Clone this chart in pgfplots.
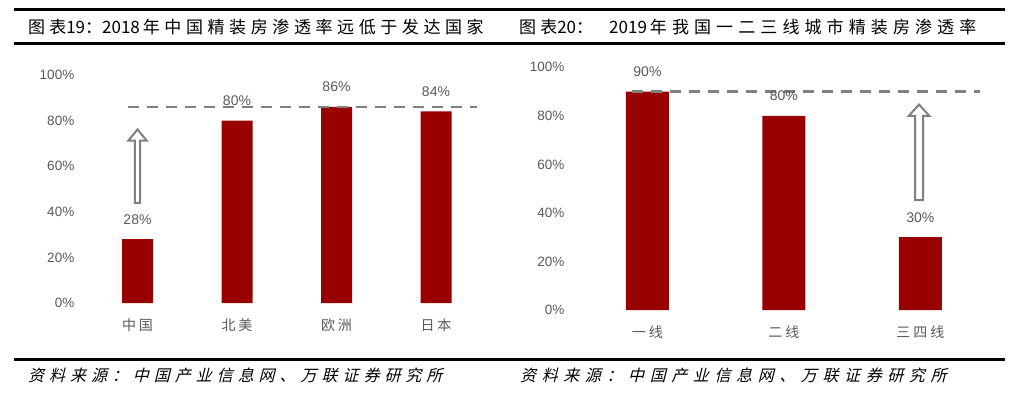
\documentclass[border=0pt]{standalone}
\usepackage{fontspec}
\setmainfont{Liberation Sans}
\newfontfamily\cjk{Noto Sans CJK SC}
\newfontfamily\cjkT[LetterSpace=24]{Noto Sans CJK SC}
\newfontfamily\cjkTA[LetterSpace=27]{Noto Sans CJK SC}
\newfontfamily\cjkTB[LetterSpace=30]{Noto Sans CJK SC}
\newfontfamily\cjksrcA[FakeSlant=0.25,LetterSpace=31]{Noto Sans CJK SC}
\newfontfamily\cjksrcB[FakeSlant=0.25,LetterSpace=35]{Noto Sans CJK SC}
\usepackage{pgfplots}
\usepackage{pgfplotstable}
\pgfplotsset{compat=1.18}
\definecolor{barred}{HTML}{990000}
\definecolor{txtgray}{HTML}{595959}
\definecolor{refgray}{HTML}{808080}

\pgfplotstableread{
x y
0 28
1 80
2 86
3 84
}\lefttab
\pgfplotstableread{
x y
0 90
1 80
2 30
}\righttab

\pgfplotsset{
 mystyle/.style={
  scale only axis, ymin=0, ymax=100, ytick={0,20,...,100},
  /pgf/number format/assume math mode=true,
  yticklabel={\pgfmathprintnumber{\tick}\%},
  axis line style={draw=none}, major tick length=0pt,
  tick label style={font=\fontsize{13.5}{15}\selectfont, text=txtgray},
  xtick=data,
  xticklabel style={font=\cjk\fontsize{14}{16}\selectfont, text=txtgray, anchor=center, yshift=-22pt},
  clip=false,
 },
 barstyle/.style={
  ybar, bar shift=0pt, fill=barred, draw=none, bar width=#1,
  nodes near coords={\pgfmathprintnumber{\pgfplotspointmeta}\%},
  every node near coord/.append style={font=\fontsize{14}{16}\selectfont, text=txtgray, anchor=base, yshift=15pt},
 },
 refline/.style={sharp plot, refgray, line width=2.6pt, dash pattern=on 11pt off 8pt, no markers},
}

\begin{document}
\begin{tikzpicture}
\useasboundingbox (0pt,0pt) rectangle (1036pt,394pt);

% header and footer rules
\draw[line width=2.7pt] (14pt,384.7pt) -- (1005pt,384.7pt);
\draw[line width=2.7pt] (14pt,350.7pt) -- (1005pt,350.7pt);
\draw[line width=2.5pt] (14pt,34.5pt) -- (1005pt,34.5pt);

\node[anchor=west, inner sep=0pt, font=\fontsize{17}{19}\selectfont] at (28pt,367pt) {{\cjkT 图表}{\cjk 19}{\cjkT ：}{\cjk 2018}\hspace{3pt}{\cjkTA 年中国精装房渗透率远低于发达国家}};
\node[anchor=west, inner sep=0pt, font=\fontsize{17}{19}\selectfont] at (519pt,367pt) {{\cjkT 图表}{\cjk 20}{\cjkT ：}};
\node[anchor=west, inner sep=0pt, font=\fontsize{17}{19}\selectfont] at (609pt,367pt) {{\cjk 2019}\hspace{3pt}{\cjkTB 年我国一二三线城市精装房渗透率}};

\node[anchor=west, inner sep=0pt, font=\cjksrcA\fontsize{16}{18}\selectfont] at (28pt,19pt) {资料来源：中国产业信息网、万联证券研究所};
\node[anchor=west, inner sep=0pt, font=\cjksrcB\fontsize{16}{18}\selectfont] at (520pt,19pt) {资料来源：中国产业信息网、万联证券研究所};

\begin{axis}[mystyle, at={(77.8pt,91pt)}, anchor=south west, width=417.9pt, height=228pt,
  xmin=-0.6, xmax=3.6,
  xticklabels={中\hspace{3pt}国,北\hspace{3pt}美,欧\hspace{3pt}洲,日\hspace{3pt}本}]
\addplot[barstyle=31pt] table[x=x,y=y] {\lefttab};
\addplot[refline] coordinates {(-0.1,86) (3.41,86)};
\draw[refgray, line width=2pt, fill=white] (axis cs:0,43.9) ++(-2.6pt,0pt) -- ++(0pt,62.3pt) -- ++(-6.6pt,0pt) -- ++(9.2pt,11.2pt) -- ++(9.2pt,-11.2pt) -- ++(-6.6pt,0pt) -- ++(0pt,-62.3pt) -- cycle;
\end{axis}

\begin{axis}[mystyle, at={(568pt,84pt)}, anchor=south west, width=434.3pt, height=242.7pt,
  xmin=-0.582, xmax=2.6,
  xticklabels={一\hspace{3pt}线,二\hspace{3pt}线,三\hspace{3pt}四\hspace{3pt}线}]
\addplot[barstyle=43pt] table[x=x,y=y] {\righttab};
\addplot[refline] coordinates {(-0.114,90) (2.436,90)};
\draw[refgray, line width=2pt, fill=white] (axis cs:1.99,45.3) ++(-4pt,0pt) -- ++(0pt,84.3pt) -- ++(-6.2pt,0pt) -- ++(10.2pt,11.2pt) -- ++(10.2pt,-11.2pt) -- ++(-6.2pt,0pt) -- ++(0pt,-84.3pt) -- cycle;
\end{axis}
\end{tikzpicture}
\end{document}
